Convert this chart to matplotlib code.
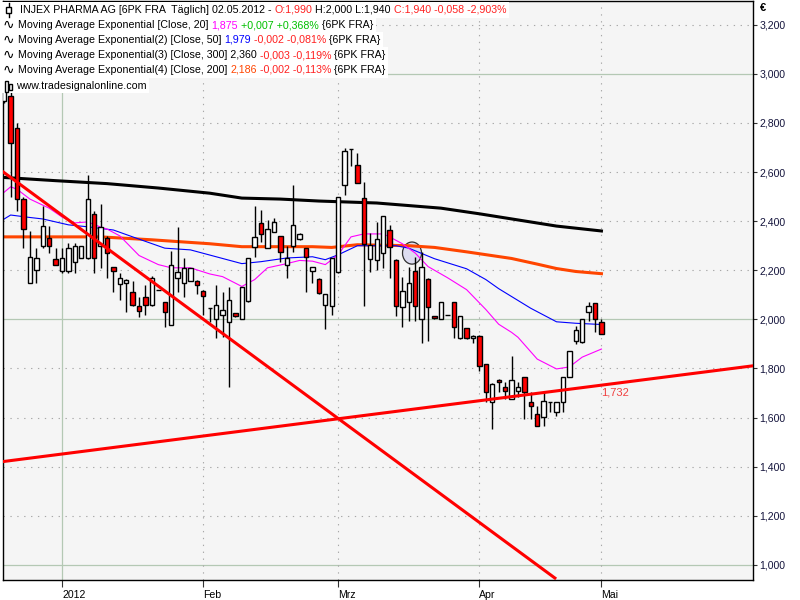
import matplotlib
matplotlib.use("Agg")
import matplotlib.pyplot as plt
from matplotlib.patches import Rectangle, Ellipse
from matplotlib.lines import Line2D
from matplotlib.ticker import FuncFormatter
import numpy as np

W, H = 800, 600
FS = 7.7

# daily bars, index 0 = first visible bar (Dec 2011) .. index 93 = 02.05.2012
opens = [2.89, 2.91, 2.78, 2.49, 2.15, 2.20, 2.30, 2.33, 2.245, 2.195,
         2.195, 2.235, 2.25, 2.25, 2.43, 2.30, 2.33, 2.215, 2.146, 2.15,
         2.11, 2.053, 2.089, 2.057, 2.12, 2.069, 1.976, 2.17, 2.15, 2.158,
         2.158, 2.117, 2.045, 2.0, 2.016, 1.99, 2.024, 2.0, 2.073, 2.296,
         2.393, 2.29, 2.356, 2.34, 2.223, 2.30, 2.328, 2.29, 2.198, 2.166,
         2.06, 2.053, 2.194, 2.547, 2.692, 2.627, 2.494, 2.247, 2.243, 2.27,
         2.364, 2.243, 2.049, 2.069, 2.198, 2.0, 2.166, 2.012, 2.0, 2.016,
         2.069, 1.923, 1.964, 1.923, 1.931, 1.818, 1.664, 1.753, 1.725, 1.676,
         1.709, 1.765, 1.664, 1.615, 1.603, 1.664, 1.623, 1.664, 1.765, 1.91,
         1.907, 2.028, 2.065, 1.99]
highs = [3.00, 2.94, 2.80, 2.50, 2.36, 2.29, 2.46, 2.38, 2.29, 2.29,
         2.31, 2.31, 2.30, 2.59, 2.44, 2.47, 2.34, 2.215, 2.19, 2.165,
         2.155, 2.09, 2.138, 2.175, 2.12, 2.07, 2.28, 2.376, 2.25, 2.21,
         2.16, 2.12, 2.045, 2.138, 2.11, 2.13, 2.025, 2.13, 2.25, 2.46,
         2.445, 2.405, 2.413, 2.34, 2.30, 2.547, 2.35, 2.29, 2.215, 2.17,
         2.105, 2.25, 2.50, 2.70, 2.692, 2.676, 2.559, 2.352, 2.397, 2.42,
         2.385, 2.245, 2.174, 2.215, 2.255, 2.275, 2.17, 2.012, 2.07, 2.016,
         2.07, 2.015, 1.965, 1.935, 1.935, 1.82, 1.74, 1.755, 1.745, 1.85,
         1.745, 1.765, 1.704, 1.648, 1.704, 1.665, 1.665, 1.765, 1.87, 1.972,
         2.0, 2.069, 2.065, 2.0]
lows = [2.88, 2.50, 2.44, 2.29, 2.15, 2.15, 2.29, 2.27, 2.22, 2.19,
        2.19, 2.19, 2.25, 2.245, 2.19, 2.21, 2.17, 2.11, 2.077, 2.03,
        2.055, 2.008, 2.016, 2.055, 2.12, 1.97, 1.975, 2.113, 2.093, 2.155,
        2.105, 2.016, 1.99, 1.923, 1.93, 1.725, 2.01, 2.0, 2.07, 2.255,
        2.316, 2.29, 2.356, 2.235, 2.17, 2.275, 2.325, 2.11, 2.15, 2.105,
        1.96, 2.016, 2.19, 2.506, 2.623, 2.555, 2.053, 2.194, 2.202, 2.21,
        2.17, 2.012, 1.968, 1.992, 1.992, 1.903, 1.911, 2.0, 2.0, 2.016,
        1.923, 1.92, 1.92, 1.903, 1.79, 1.664, 1.555, 1.704, 1.676, 1.676,
        1.684, 1.595, 1.595, 1.567, 1.567, 1.623, 1.607, 1.623, 1.765, 1.899,
        1.905, 1.992, 1.947, 1.94]
closes = [2.985, 2.72, 2.49, 2.37, 2.255, 2.25, 2.38, 2.30, 2.22, 2.25,
          2.29, 2.30, 2.30, 2.49, 2.25, 2.375, 2.27, 2.195, 2.17, 2.162,
          2.057, 2.036, 2.057, 2.17, 2.12, 2.028, 2.223, 2.194, 2.21, 2.21,
          2.138, 2.097, 2.045, 2.06, 2.04, 2.077, 2.012, 2.13, 2.25, 2.336,
          2.348, 2.37, 2.397, 2.275, 2.25, 2.385, 2.348, 2.255, 2.215, 2.109,
          2.105, 2.25, 2.498, 2.684, 2.692, 2.555, 2.308, 2.304, 2.328, 2.42,
          2.296, 2.053, 2.117, 2.15, 2.053, 2.215, 2.049, 2.004, 2.069, 2.016,
          1.968, 2.012, 1.923, 1.931, 1.81, 1.704, 1.737, 1.745, 1.709, 1.753,
          1.725, 1.704, 1.648, 1.567, 1.668, 1.664, 1.664, 1.765, 1.87, 1.955,
          2.0, 2.053, 2.0, 1.94]

month_days = [9, 31, 52, 74, 93]
month_labels = ["2012", "Feb", "Mrz", "Apr", "Mai"]
price_ticks = [1.0, 1.2, 1.4, 1.6, 1.8, 2.0, 2.2, 2.4, 2.6, 2.8, 3.0, 3.2]

# moving averages
ema20_days = [0, 1, 2, 4, 7, 9, 11, 13, 15, 16, 18, 21, 24, 26, 29, 32, 34, 37, 39,
              41, 44, 46, 48, 50, 52, 54, 56, 59, 60, 62, 64, 66, 69, 72, 75, 77,
              79, 80, 83, 86, 88, 90, 93]
ema20_vals = [2.518, 2.54, 2.53, 2.49, 2.453, 2.417, 2.393, 2.397, 2.376, 2.368,
              2.34, 2.26, 2.223, 2.21, 2.21, 2.185, 2.174, 2.134, 2.162, 2.21,
              2.227, 2.24, 2.237, 2.223, 2.263, 2.336, 2.348, 2.348, 2.336, 2.308,
              2.27, 2.215, 2.17, 2.121, 2.04, 1.98, 1.947, 1.927, 1.838, 1.798,
              1.806, 1.846, 1.879]
ema50_days = [0, 1, 4, 6, 10, 13, 17, 20, 25, 29, 32, 37, 40, 44, 48, 50, 52, 55,
              61, 63, 67, 72, 75, 77, 82, 86, 89, 93]
ema50_vals = [2.409, 2.425, 2.415, 2.409, 2.385, 2.377, 2.364, 2.336, 2.29, 2.283,
              2.262, 2.227, 2.235, 2.25, 2.255, 2.243, 2.263, 2.30, 2.30, 2.29,
              2.247, 2.206, 2.162, 2.125, 2.045, 1.99, 1.984, 1.979]
ema200_days = [0, 15, 23, 32, 37, 48, 51, 55, 63, 67, 72, 79, 83, 86, 89, 93]
ema200_vals = [2.336, 2.336, 2.324, 2.308, 2.296, 2.296, 2.293, 2.304, 2.30, 2.293,
               2.275, 2.248, 2.225, 2.207, 2.195, 2.186]
ema300_days = [0, 8, 16, 24, 32, 37, 43, 49, 58, 68, 74, 80, 86, 93]
ema300_vals = [2.578, 2.565, 2.553, 2.535, 2.514, 2.494, 2.49, 2.482, 2.474, 2.453,
               2.43, 2.405, 2.38, 2.36]

# drawn trend lines (two anchors each) and the marker ellipse
trend_down_days = [-0.65, 85.75]
trend_down_vals = [2.61, 0.946]
trend_up_days = [-0.65, 116.4]
trend_up_vals = [1.419, 1.810]
trend_label = "1,732"
trend_label_day, trend_label_val = 93, 1.732
circle_day, circle_val = 63.5, 2.27
circle_w, circle_h = 2.96, 0.09

fig = plt.figure(figsize=(W / 100, H / 100), dpi=100)
fig.patch.set_facecolor("white")
plt.rcParams["font.family"] = ["Liberation Sans", "DejaVu Sans"]

ax = fig.add_axes([3 / W, 20 / H, 750 / W, 579 / H])
ax.set_facecolor("#F5F5F5")
ax.set_xlim(-0.19, 116.6)
ax.set_ylim(0.938, 3.297)
for s in ax.spines.values():
    s.set_color("black")
    s.set_linewidth(1.0)

# grid: solid on whole numbers / year, dotted otherwise
for v in price_ticks:
    if abs(v - round(v)) < 1e-9:
        ax.axhline(v, color="#B4C8B4", lw=0.9, zorder=0.5)
    else:
        ax.axhline(v, color="#A8A8A8", lw=0.8, ls=(0, (1.2, 5)), zorder=0.5)
for d, lab in zip(month_days, month_labels):
    if lab.isdigit():
        ax.axvline(d, color="#B4C8B4", lw=0.9, zorder=0.5)
    else:
        ax.axvline(d, color="#A8A8A8", lw=0.8, ls=(0, (1.2, 5)), zorder=0.5)

ax.add_patch(Ellipse((circle_day, circle_val), circle_w, circle_h,
                     facecolor="#DCDCF0", edgecolor="#303030", lw=0.9, zorder=1.8))

ax.plot(ema300_days, ema300_vals, color="black", lw=2.2, zorder=2)
ax.plot(ema200_days, ema200_vals, color="#FF4500", lw=2.2, zorder=2)
ax.plot(ema50_days, ema50_vals, color="#0000FF", lw=0.8, zorder=2.1)
ax.plot(ema20_days, ema20_vals, color="#FF00FF", lw=0.8, zorder=2.1)

# candles
days = np.arange(len(opens))
o, h, l, c = (np.array(a) for a in (opens, highs, lows, closes))
ax.vlines(days, l, h, color="black", lw=1.0, zorder=3)
body_w = 0.68
for d, oo, cc in zip(days, o, c):
    fc = "white" if cc >= oo else "#FF0000"
    ax.add_patch(Rectangle((d - body_w / 2, min(oo, cc)), body_w, abs(cc - oo),
                           facecolor=fc, edgecolor="black", lw=1.0, zorder=3.1))

ax.plot(trend_down_days, trend_down_vals, color="#FF0000", lw=2.2, zorder=4)
ax.plot(trend_up_days, trend_up_vals, color="#FF0000", lw=2.2, zorder=4)
ax.annotate(trend_label, xy=(trend_label_day, trend_label_val), xytext=(0, -5),
            textcoords="offset points", color="#F04040", fontsize=8,
            ha="left", va="center", zorder=5)

# axes ticks
ax.yaxis.tick_right()
ax.set_yticks(price_ticks)
ax.yaxis.set_major_formatter(FuncFormatter(lambda v, _: f"{v:.3f}".replace(".", ",")))
ax.tick_params(axis="y", direction="out", length=3, width=0.8, pad=1.5,
               labelsize=7.6, labelcolor="#14143C", color="#333333")
ax.set_xticks(month_days)
ax.set_xticklabels(month_labels)
ax.tick_params(axis="x", direction="out", length=5, width=0.8, pad=2,
               labelsize=7.6, labelcolor="black", color="#333333")
for t in ax.get_xticklabels():
    t.set_ha("left")
fig.text(760 / W, 1 - 8 / H, "€", fontsize=8, fontweight="bold", va="center")

# legend block: pieces placed one after another, white strip behind each row
K, R, G, MAG, BLU, ORA = "black", "#FF2020", "#00C000", "#FF00FF", "#0000FF", "#FF4500"
renderer = fig.canvas.get_renderer()
GAP = 3


def legend_row(x_px, y_px, pieces):
    x = x_px
    for txt, col in pieces:
        t = fig.text(x / W, 1 - y_px / H, txt, color=col, fontsize=FS,
                     va="center", ha="left", zorder=10)
        x = t.get_window_extent(renderer).x1 + GAP
    fig.add_artist(Rectangle((0.5 / W, 1 - (y_px + 7.5) / H), (x - GAP + 2) / W, 15 / H,
                             facecolor="white", edgecolor="none", zorder=9))


legend_row(20, 10, [("INJEX PHARMA AG [6PK FRA  Täglich] 02.05.2012 -", K),
                    ("O:1,990", R), ("H:2,000 L:1,940", K),
                    ("C:1,940 -0,058 -2,903%", R)])
legend_row(18, 25, [("Moving Average Exponential [Close, 20]", K), ("1,875", MAG),
                    ("+0,007 +0,368%", G), ("{6PK FRA}", K)])
legend_row(18, 40, [("Moving Average Exponential(2) [Close, 50]", K), ("1,979", BLU),
                    ("-0,002 -0,081%", R), ("{6PK FRA}", K)])
legend_row(18, 55, [("Moving Average Exponential(3) [Close, 300] 2,360", K),
                    ("-0,003 -0,119%", R), ("{6PK FRA}", K)])
legend_row(18, 70, [("Moving Average Exponential(4) [Close, 200]", K), ("2,186", ORA),
                    ("-0,002 -0,113%", R), ("{6PK FRA}", K)])
legend_row(16, 86, [("www.tradesignalonline.com", K)])

for y_px in (25, 40, 55, 70):
    fig.text(3 / W, 1 - y_px / H, "∿", fontsize=10, family="DejaVu Sans",
             va="center", ha="left", zorder=11)

# small candle icon (row 1) and logo icon (row 6)
fig.add_artist(Line2D([8.5 / W, 8.5 / W], [1 - 3 / H, 1 - 17 / H], color="black",
                      lw=1, zorder=11))
fig.add_artist(Rectangle((6 / W, 1 - 13 / H), 5 / W, 6 / H, facecolor="white",
                         edgecolor="black", lw=1, zorder=11))
fig.add_artist(Rectangle((5 / W, 1 - 92 / H), 3 / W, 11 / H, facecolor="white",
                         edgecolor="black", lw=1, zorder=11))
fig.add_artist(Rectangle((9 / W, 1 - 90 / H), 3 / W, 6 / H, facecolor="white",
                         edgecolor="black", lw=1, zorder=11))

fig.savefig("out.png", dpi=100, facecolor="white")
